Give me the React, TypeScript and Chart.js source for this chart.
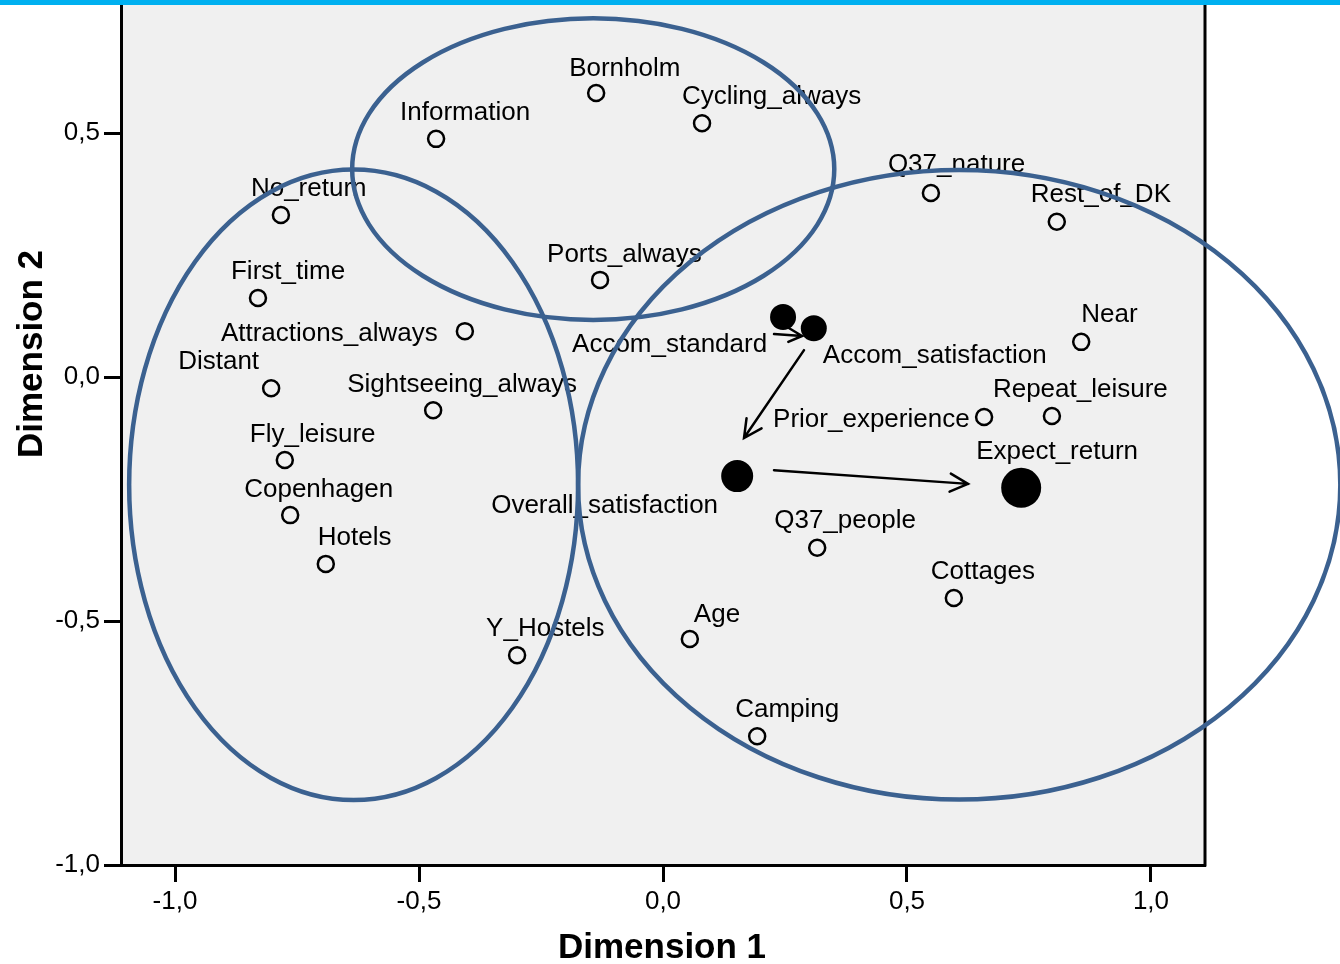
import React, { useEffect, useRef } from 'react';
import { Chart, registerables } from 'chart.js';

Chart.register(...registerables);

// ---- data ----
const hollowNames = [
  'Bornholm', 'Cycling_always', 'Information', 'No_return', 'Q37_nature', 'Rest_of_DK',
  'First_time', 'Ports_always', 'Attractions_always', 'Distant', 'Sightseeing_always', 'Near',
  'Repeat_leisure', 'Prior_experience', 'Fly_leisure', 'Copenhagen', 'Hotels', 'Q37_people',
  'Cottages', 'Age', 'Y_Hostels', 'Camping',
];
const hollowX = [
  -0.137, 0.080, -0.465, -0.783, 0.549, 0.807,
  -0.830, -0.129, -0.406, -0.803, -0.471, 0.857,
  0.797, 0.658, -0.775, -0.764, -0.691, 0.316,
  0.596, 0.055, -0.299, 0.193,
];
const hollowY = [
  0.582, 0.520, 0.488, 0.332, 0.377, 0.318,
  0.162, 0.199, 0.094, -0.023, -0.068, 0.072,
  -0.080, -0.082, -0.170, -0.283, -0.383, -0.350,
  -0.453, -0.537, -0.570, -0.736,
];
const filledNames = ['Accom_standard', 'Accom_satisfaction', 'Overall_satisfaction', 'Expect_return'];
const filledX = [0.246, 0.309, 0.152, 0.734];
const filledY = [0.123, 0.100, -0.203, -0.227];

const xTicks = [-1.0, -0.5, 0.0, 0.5, 1.0];
const yTicks = [-1.0, -0.5, 0.0, 0.5];

const ellipseCX = [-0.634, -0.143, 0.607];
const ellipseCY = [-0.221, 0.426, -0.221];
const ellipseRX = [0.460, 0.494, 0.781];
const ellipseRY = [0.646, 0.309, 0.645];

const arrowFromX = [0.2275, 0.289, 0.2275];
const arrowFromY = [0.088, 0.055, -0.191];
const arrowToX = [0.285, 0.166, 0.625];
const arrowToY = [0.084, -0.125, -0.219];

// ---- layout / style (pixels) ----
const hollowLabelOffset = [
  [-27, -26], [-20, -28], [-36, -28], [-30, -28], [-43, -30], [-26, -29],
  [-27, -28], [-53, -27], [-244, 1], [-93, -28], [-86, -27], [0, -29],
  [-59, -28], [-211, 1], [-35, -27], [-46, -27], [-8, -28], [-43, -29],
  [-23, -28], [4, -26], [-31, -28], [-22, -28],
];
const filledLabelOffset = [[-211, 26], [9, 26], [-246, 28], [-45, -38]];
const filledRadius = [13, 13, 16, 20];
const arrowHeadLen = [15, 20, 20];

const FONT = '"Liberation Sans", Arial, Helvetica, sans-serif';
const ELLIPSE_COLOR = '#3b6190';
const ZERO_PAD = () => ({ left: 0, top: 0, right: 0, bottom: 0 });

const decorPlugin = {
  id: 'decor',
  beforeDraw(chart: any) {
    const { ctx, chartArea: a } = chart;
    ctx.save();
    ctx.fillStyle = '#ffffff';
    ctx.fillRect(0, 0, chart.width, chart.height);
    ctx.fillStyle = '#f0f0f0';
    ctx.fillRect(a.left, a.top, a.right - a.left, a.bottom - a.top);
    ctx.restore();
  },
  afterDatasetsDraw(chart: any) {
    const { ctx, chartArea: a } = chart;
    const xs = chart.scales.x;
    const ys = chart.scales.y;
    ctx.save();
    // right border
    ctx.strokeStyle = '#000';
    ctx.lineWidth = 3;
    ctx.beginPath();
    ctx.moveTo(a.right, a.top);
    ctx.lineTo(a.right, a.bottom + 1.5);
    ctx.stroke();

    // labels
    ctx.fillStyle = '#000';
    ctx.font = `26px ${FONT}`;
    ctx.textAlign = 'left';
    ctx.textBaseline = 'alphabetic';
    hollowNames.forEach((n, i) => {
      const px = xs.getPixelForValue(hollowX[i]);
      const py = ys.getPixelForValue(hollowY[i]);
      ctx.fillText(n, px + hollowLabelOffset[i][0], py + hollowLabelOffset[i][1] + 9);
    });
    filledNames.forEach((n, i) => {
      const px = xs.getPixelForValue(filledX[i]);
      const py = ys.getPixelForValue(filledY[i]);
      ctx.fillText(n, px + filledLabelOffset[i][0], py + filledLabelOffset[i][1] + 9);
    });

    // ellipses
    ctx.strokeStyle = ELLIPSE_COLOR;
    ctx.lineWidth = 4.5;
    ellipseCX.forEach((cx, i) => {
      const pcx = xs.getPixelForValue(cx);
      const pcy = ys.getPixelForValue(ellipseCY[i]);
      const prx = Math.abs(xs.getPixelForValue(cx + ellipseRX[i]) - pcx);
      const pry = Math.abs(ys.getPixelForValue(ellipseCY[i] + ellipseRY[i]) - pcy);
      ctx.beginPath();
      ctx.ellipse(pcx, pcy, prx, pry, 0, 0, Math.PI * 2);
      ctx.stroke();
    });

    // arrows
    ctx.strokeStyle = '#000';
    ctx.lineWidth = 2.5;
    ctx.lineCap = 'round';
    arrowFromX.forEach((fx, i) => {
      const x0 = xs.getPixelForValue(fx);
      const y0 = ys.getPixelForValue(arrowFromY[i]);
      const x1 = xs.getPixelForValue(arrowToX[i]);
      const y1 = ys.getPixelForValue(arrowToY[i]);
      const ang = Math.atan2(y0 - y1, x0 - x1);
      const L = arrowHeadLen[i];
      const spread = (27 * Math.PI) / 180;
      ctx.beginPath();
      ctx.moveTo(x0, y0);
      ctx.lineTo(x1, y1);
      ctx.moveTo(x1 + L * Math.cos(ang + spread), y1 + L * Math.sin(ang + spread));
      ctx.lineTo(x1, y1);
      ctx.lineTo(x1 + L * Math.cos(ang - spread), y1 + L * Math.sin(ang - spread));
      ctx.stroke();
    });
    ctx.restore();
  },
  afterDraw(chart: any) {
    const { ctx } = chart;
    ctx.save();
    // top cyan bar
    ctx.fillStyle = '#00b0f0';
    ctx.fillRect(0, 0, chart.width, 5);
    // axis titles
    ctx.fillStyle = '#000';
    ctx.font = `bold 35px ${FONT}`;
    ctx.textAlign = 'center';
    ctx.textBaseline = 'alphabetic';
    ctx.fillText('Dimension 1', 662, 958);
    ctx.translate(42, 354);
    ctx.rotate(-Math.PI / 2);
    ctx.fillText('Dimension 2', 0, 0);
    ctx.restore();
  },
};

const fmt = (v: any) => Number(v).toFixed(1).replace('.', ',');

export default function App() {
  const ref = useRef<HTMLCanvasElement | null>(null);
  useEffect(() => {
    document.body.style.margin = '0';
    const canvas = ref.current;
    if (!canvas) return;
    const chart = new Chart(canvas, {
      type: 'scatter',
      data: {
        datasets: [
          {
            label: 'hollow',
            data: hollowX.map((x, i) => ({ x, y: hollowY[i] })),
            pointRadius: 8,
            pointBorderWidth: 2.5,
            pointBorderColor: '#000',
            pointBackgroundColor: 'rgba(0,0,0,0)',
          },
          {
            label: 'filled',
            data: filledX.map((x, i) => ({ x, y: filledY[i] })),
            pointRadius: filledRadius,
            pointBorderWidth: 0,
            pointBorderColor: '#000',
            pointBackgroundColor: '#000',
          },
        ],
      },
      options: {
        responsive: false,
        animation: false,
        devicePixelRatio: 1,
        layout: { autoPadding: false, padding: { top: 5, right: 135, left: 0, bottom: 0 } },
        plugins: { legend: { display: false }, tooltip: { enabled: false } },
        scales: {
          x: {
            type: 'linear',
            min: -1.1107,
            max: 1.1107,
            afterBuildTicks: (s: any) => { s.ticks = xTicks.map((v) => ({ value: v })); },
            afterFit: (s: any) => {
              s.height = 99;
              s.paddingLeft = 0; s.paddingRight = 0; s.paddingTop = 0; s.paddingBottom = 0;
              s.getPadding = ZERO_PAD;
            },
            grid: { drawOnChartArea: false, drawTicks: true, tickLength: 17, tickWidth: 3, tickColor: '#000' },
            border: { display: true, color: '#000', width: 3 },
            ticks: { color: '#000', font: { family: FONT, size: 26 }, padding: 4, maxRotation: 0, autoSkip: false, callback: fmt },
          },
          y: {
            type: 'linear',
            min: -1.0,
            max: 0.7623,
            afterBuildTicks: (s: any) => { s.ticks = yTicks.map((v) => ({ value: v })); },
            afterFit: (s: any) => {
              s.width = 121;
              s.paddingTop = 0; s.paddingBottom = 0; s.paddingLeft = 0; s.paddingRight = 0;
              s.getPadding = ZERO_PAD;
            },
            grid: { drawOnChartArea: false, drawTicks: true, tickLength: 17, tickWidth: 3, tickColor: '#000' },
            border: { display: true, color: '#000', width: 3 },
            ticks: { color: '#000', font: { family: FONT, size: 26 }, padding: 4, autoSkip: false, callback: fmt },
          },
        },
      },
      plugins: [decorPlugin],
    } as any);
    return () => chart.destroy();
  }, []);
  return <canvas ref={ref} width={1340} height={964} style={{ display: 'block' }} />;
}
